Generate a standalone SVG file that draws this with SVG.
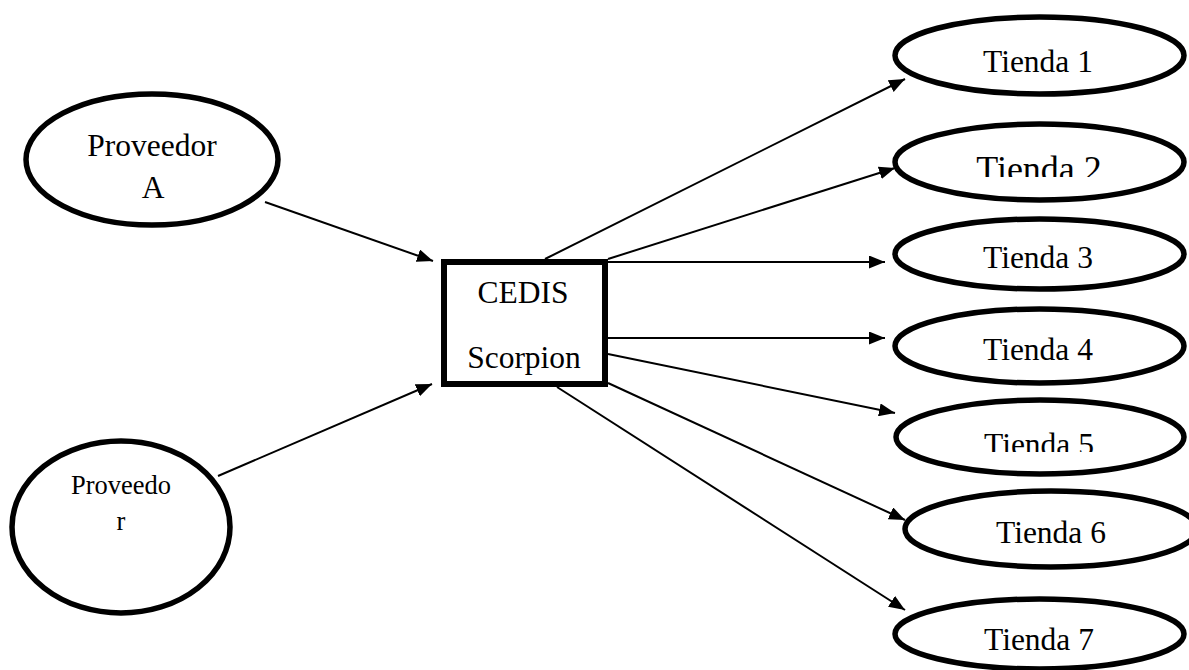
<svg xmlns="http://www.w3.org/2000/svg" width="1189" height="670" viewBox="0 0 1189 670">
<style>
.node{fill:#fff;stroke:#000;stroke-width:5.5}
.box{fill:#fff;stroke:#000;stroke-width:6}
.t{font-family:"Liberation Serif","Times New Roman",serif;font-size:31.5px;fill:#000;text-anchor:middle}
.edge{stroke:#000;stroke-width:2;fill:none;marker-end:url(#arr)}
</style>
<defs>
<marker id="arr" markerUnits="userSpaceOnUse" markerWidth="17" markerHeight="13" refX="16" refY="6.5" orient="auto">
<path d="M0,0 L16,6.5 L0,13 z" fill="#000"/>
</marker>
<clipPath id="c2"><rect x="900" y="130" width="289" height="47"/></clipPath>
<clipPath id="c5"><rect x="900" y="405" width="289" height="47"/></clipPath>
</defs>
<rect width="1189" height="670" fill="#fff"/>
<g id="connectors">
<line class="edge" x1="265" y1="202" x2="433" y2="261"/>
<line class="edge" x1="218" y1="476" x2="432" y2="384"/>
<line class="edge" x1="545" y1="259" x2="905" y2="79"/>
<line class="edge" x1="608" y1="259" x2="895" y2="168"/>
<line class="edge" x1="608" y1="262" x2="885" y2="262"/>
<line class="edge" x1="608" y1="338" x2="885" y2="338"/>
<line class="edge" x1="608" y1="354" x2="895" y2="413"/>
<line class="edge" x1="608" y1="383" x2="905" y2="520"/>
<line class="edge" x1="557" y1="387" x2="905" y2="610"/>
</g>
<g id="proveedorA">
<ellipse class="node" cx="152" cy="159.5" rx="126" ry="65.5"/>
<text class="t" x="152" y="156">Proveedor</text>
<text class="t" x="153" y="198">A</text>
</g>
<g id="proveedorB">
<ellipse class="node" cx="121" cy="527" rx="109" ry="86"/>
<text class="t" x="121" y="494" style="font-size:26.5px">Proveedo</text>
<text class="t" x="121" y="530" style="font-size:26.5px">r</text>
</g>
<g id="cedis">
<rect class="box" x="444" y="262" width="161" height="122"/>
<text class="t" x="523" y="303">CEDIS</text>
<text class="t" x="524" y="368">Scorpion</text>
</g>
<g id="tienda1">
<ellipse class="node" cx="1039.5" cy="55.5" rx="144.5" ry="38.5"/>
<text class="t" x="1038" y="72">Tienda 1</text>
</g>
<g id="tienda2">
<ellipse class="node" cx="1039.5" cy="162" rx="144.5" ry="38"/>
<text class="t" x="1039" y="181" style="font-size:36px" clip-path="url(#c2)">Tienda 2</text>
</g>
<g id="tienda3">
<ellipse class="node" cx="1039.5" cy="254" rx="144.5" ry="35"/>
<text class="t" x="1038" y="268">Tienda 3</text>
</g>
<g id="tienda4">
<ellipse class="node" cx="1039.5" cy="346" rx="144.5" ry="37"/>
<text class="t" x="1038" y="360">Tienda 4</text>
</g>
<g id="tienda5">
<ellipse class="node" cx="1040" cy="437" rx="144" ry="37"/>
<text class="t" x="1039" y="455" clip-path="url(#c5)">Tienda 5</text>
</g>
<g id="tienda6">
<ellipse class="node" cx="1051" cy="529" rx="146" ry="38"/>
<text class="t" x="1051" y="543">Tienda 6</text>
</g>
<g id="tienda7">
<ellipse class="node" cx="1039.5" cy="634" rx="144.5" ry="35"/>
<text class="t" x="1039" y="650">Tienda 7</text>
</g>
</svg>
